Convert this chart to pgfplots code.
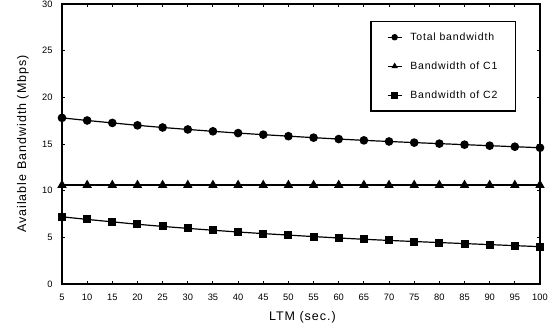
\documentclass[border=0pt]{standalone}
\usepackage{pgfplots}
\pgfplotsset{compat=1.18}
\usepackage{fontspec}
\setmainfont{Liberation Sans}[LetterSpace=8]
\newfontfamily\plainfont{Liberation Sans}
\begin{document}
\begin{tikzpicture}[x=1pt,y=1pt]
\useasboundingbox (0,0) rectangle (552,330);
\begin{axis}[
  at={(62pt,46pt)}, anchor=south west,
  scale only axis, width=478pt, height=280pt,
  xmin=5, xmax=100, ymin=0, ymax=30,
  xtick={5,10,...,100}, ytick={0,5,...,30},
  separate axis lines,
  axis line style={line width=2.2pt, line cap=rect},
  major tick style={line width=1pt, black},
  major tick length=3pt,
  tick align=inside,
  tick label style={font=\plainfont\fontsize{9.3}{10}\selectfont},
  /pgf/number format/assume math mode=true,
  xticklabel style={anchor=center, yshift=-13pt},
  yticklabel style={anchor=east, xshift=-6pt},
  xlabel={LTM (sec.)},
  ylabel={Available Bandwidth (Mbps)},
  label style={font=\fontsize{12.5}{14}\selectfont},
  xlabel style={at={(axis description cs:0.503,-0.118)}, anchor=center},
  ylabel style={at={(axis description cs:-0.0816,0.5)}, anchor=center},
  legend style={at={(0.9498,0.939)}, anchor=north east, draw=black, line width=1.2pt,
    font=\fontsize{10.5}{12}\selectfont, row sep=16pt, inner xsep=16pt, inner ysep=9pt,
    cells={anchor=west}, /tikz/every odd column/.append style={column sep=6pt}},
  legend cell align=left,
  legend image code/.code={
    \draw[#1, mark=none] (0pt,0pt) -- (14pt,0pt);
    \draw[#1, only marks, mark size=2.6pt] plot coordinates {(7pt,0pt)};},
  every axis plot/.append style={black, line width=1.2pt, mark options={solid}},
]
\addplot[mark=*, mark size=3.7pt] coordinates {
(5,17.8)(10,17.52)(15,17.26)(20,17.0)(25,16.77)(30,16.56)(35,16.36)(40,16.17)(45,16.0)(50,15.84)
(55,15.68)(60,15.53)(65,15.39)(70,15.27)(75,15.15)(80,15.04)(85,14.93)(90,14.82)(95,14.71)(100,14.6)};
\addlegendentry{Total bandwidth}
\addplot[mark=triangle*, mark size=4.2pt] coordinates {
(5,10.6)(10,10.6)(15,10.6)(20,10.6)(25,10.6)(30,10.6)(35,10.6)(40,10.6)(45,10.6)(50,10.6)
(55,10.6)(60,10.6)(65,10.6)(70,10.6)(75,10.6)(80,10.6)(85,10.6)(90,10.6)(95,10.6)(100,10.6)};
\addlegendentry{Bandwidth of C1}
\addplot[mark=square*, mark size=3.4pt] coordinates {
(5,7.2)(10,6.92)(15,6.66)(20,6.4)(25,6.17)(30,5.96)(35,5.76)(40,5.57)(45,5.4)(50,5.24)
(55,5.08)(60,4.93)(65,4.79)(70,4.67)(75,4.55)(80,4.44)(85,4.33)(90,4.22)(95,4.11)(100,4.0)};
\addlegendentry{Bandwidth of C2}
\end{axis}
\end{tikzpicture}
\end{document}
